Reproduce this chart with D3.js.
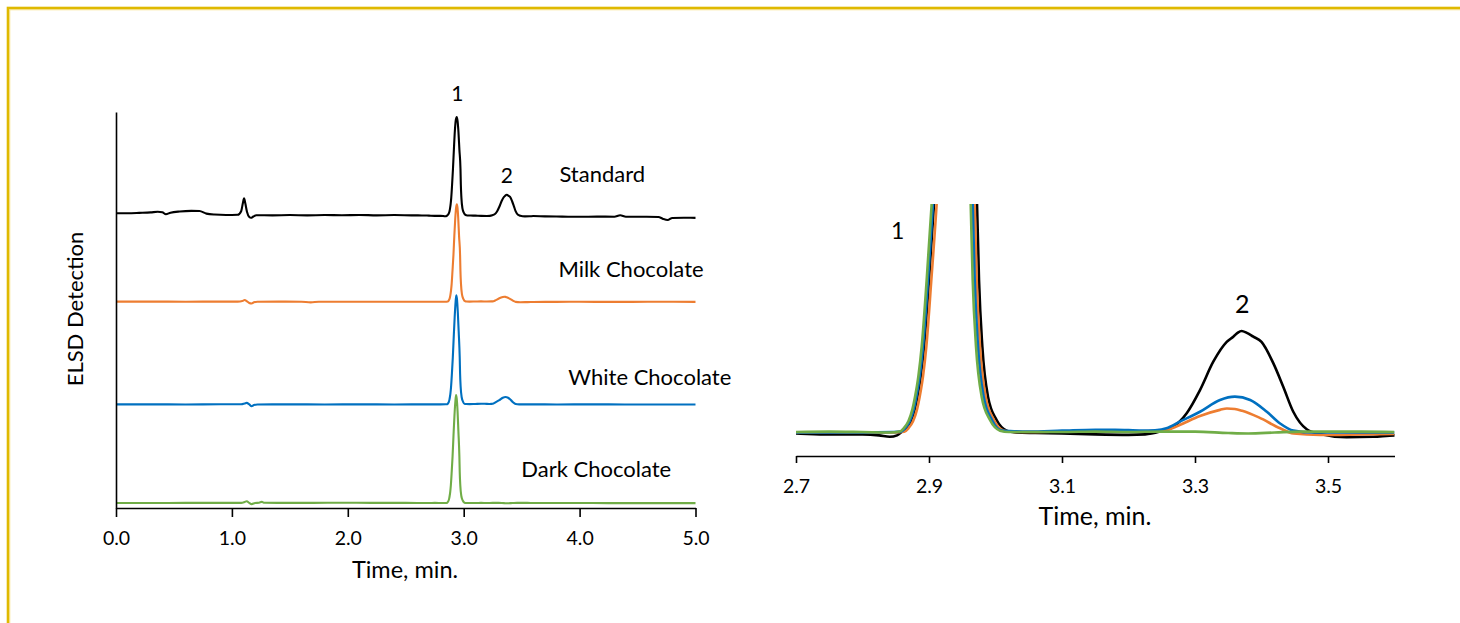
<!DOCTYPE html>
<html>
<head>
<meta charset="utf-8">
<script src="https://cdn.jsdelivr.net/npm/d3@7"></script>
<style>
  html, body { margin: 0; padding: 0; background: #fff; }
  svg { display: block; }
  text { font-family: Lato, "Open Sans", sans-serif; fill: #000; }
</style>
</head>
<body>
<svg id="chart" width="1460" height="623"></svg>
<script>
// ---------------- DATA (time in min, ELSD signal in arbitrary units) ----------------
const seriesNames = ["Standard", "Milk Chocolate", "White Chocolate", "Dark Chocolate"];
const seriesColors = ["#000000", "#ED7D31", "#0070C0", "#70AD47"];
// vertical stacking offsets used in the left (full-run) panel, signal units
const stackOffsets = [302.8, 213.5, 107.2, 5];

const leftTicks = [0, 1, 2, 3, 4, 5];
const rightTicks = [2.7, 2.9, 3.1, 3.3, 3.5];

const standard = [
  [0.00,2.3],[0.10,2.4],[0.20,2.8],[0.30,3.3],[0.36,3.9],[0.40,3.4],[0.43,1.4],[0.47,2.9],[0.55,4.2],
  [0.65,4.8],[0.72,4.7],[0.78,2.0],[0.85,1.0],[0.95,0.6],[1.05,0.8],[1.08,4.5],[1.095,13],[1.105,17.8],
  [1.115,13],[1.13,4],[1.15,-1.5],[1.165,-2.3],[1.185,-1.0],[1.21,0.3],[1.35,0.2],[1.5,0.5],[1.65,0.2],
  [1.8,0.5],[1.95,0.3],[2.1,0.6],[2.25,0.2],[2.4,0.5],[2.55,0.2],[2.65,0.1],[2.70,-0.1],[2.75,-0.3],
  [2.80,-0.3],[2.825,-0.5],[2.841,-0.8],[2.852,-0.5],[2.8595,0.3],[2.8655,1.0],[2.8725,2.5],[2.8785,5.0],
  [2.8825,7.7],[2.8875,12],[2.8925,18.3],[2.900,32.4],[2.9075,48.5],[2.916,70],[2.924,88],[2.932,99],
  [2.940,102],[2.947,98],[2.955,86],[2.963,68],[2.9722,48.5],[2.9752,32.4],[2.9802,18.3],[2.9887,7.7],
  [3.0017,2.75],[3.0168,0.5],[3.03,0.1],[3.06,0.0],[3.10,-0.1],[3.15,-0.3],[3.20,-0.4],[3.225,-0.3],
  [3.247,0.3],[3.267,1.3],[3.2875,4.2],[3.3075,9.1],[3.3275,15.1],[3.3477,19.3],[3.3576,20.4],[3.364,21.2],
  [3.370,21.6],[3.378,21.2],[3.3877,20.4],[3.400,19.3],[3.4177,14.8],[3.4327,9.8],[3.4478,4.5],[3.468,0.8],
  [3.488,-0.2],[3.528,-0.9],[3.568,-0.8],[3.60,-0.5],[3.70,-0.9],[3.85,-1.1],[4.00,-1.3],[4.15,-1.1],
  [4.30,-1.2],[4.35,0.3],[4.40,-1.2],[4.55,-1.3],[4.68,-1.5],[4.72,-3.5],[4.76,-4.6],[4.80,-2.5],
  [4.90,-2.3],[5.00,-2.4]
];

const milkChocolate = [
  [0.00,0.2],[0.3,0.2],[0.6,0.1],[0.9,0.2],[1.05,0.2],[1.09,0.8],[1.11,1.8],[1.13,0.5],[1.15,-1.2],
  [1.17,-1.7],[1.19,-0.5],[1.22,0.1],[1.4,0.2],[1.6,0.0],[1.68,-0.6],[1.75,0.0],[2.0,0.1],[2.3,0.1],
  [2.6,0.1],[2.7,0.1],[2.8,0.1],[2.84,0.1],[2.863,0.3],[2.869,1.0],[2.876,2.5],[2.882,5.0],[2.886,7.7],
  [2.891,12],[2.896,18.3],[2.9035,32.4],[2.9115,48.5],[2.919,68],[2.927,86],[2.935,98],[2.941,101],
  [2.947,97],[2.953,86],[2.960,68],[2.9687,48.5],[2.9717,32.4],[2.9767,18.3],[2.9852,7.7],[2.9977,2.75],
  [3.0128,0.5],[3.025,0.3],[3.05,0.2],[3.10,0.3],[3.15,0.4],[3.20,0.3],[3.24,0.4],[3.257,0.6],[3.277,1.7],
  [3.3075,3.6],[3.3376,4.9],[3.348,5.2],[3.360,5.1],[3.371,4.7],[3.396,3.3],[3.428,1.0],[3.448,-0.1],
  [3.488,-0.4],[3.55,-0.3],[3.60,-0.2],[3.8,-0.1],[4.0,0.0],[4.3,-0.1],[4.6,0.0],[5.0,-0.1]
];

const whiteChocolate = [
  [0.00,0.1],[0.3,0.1],[0.6,0.0],[0.9,0.2],[1.08,0.2],[1.11,1.0],[1.128,1.6],[1.15,0.0],[1.17,-1.8],
  [1.19,-0.6],[1.22,0.0],[1.5,0.1],[1.8,0.0],[2.1,0.1],[2.4,0.0],[2.7,0.1],[2.8,0.1],[2.845,0.2],
  [2.858,0.3],[2.864,1.0],[2.871,2.5],[2.877,5.0],[2.881,7.7],[2.886,12],[2.891,18.3],[2.8985,32.4],
  [2.906,48.5],[2.914,70],[2.922,90],[2.930,106],[2.936,113],[2.942,109],[2.949,96],[2.957,75],
  [2.9657,48.5],[2.9687,32.4],[2.9737,18.3],[2.9822,7.7],[2.9947,2.75],[3.0098,0.5],[3.022,0.4],
  [3.05,0.3],[3.10,0.5],[3.15,0.7],[3.18,0.7],[3.22,0.5],[3.24,0.6],[3.257,1.0],[3.277,2.4],[3.3075,4.5],
  [3.3376,7.0],[3.360,7.7],[3.383,7.0],[3.408,4.5],[3.428,2.0],[3.448,0.5],[3.478,0.1],[3.54,0.1],
  [3.60,0.1],[3.8,0.0],[4.1,0.1],[4.4,0.0],[4.7,0.0],[5.0,-0.1]
];

const darkChocolate = [
  [0.00,0.2],[0.3,0.2],[0.6,0.3],[0.9,0.3],[1.08,0.3],[1.11,1.2],[1.128,2.0],[1.15,0.3],[1.17,-1.0],
  [1.20,0.2],[1.235,0.5],[1.258,1.3],[1.28,0.4],[1.4,0.3],[1.7,0.3],[1.95,0.5],[2.2,0.3],[2.5,0.3],
  [2.7,0.2],[2.75,0.3],[2.80,0.2],[2.84,0.1],[2.856,0.3],[2.862,1.0],[2.869,2.5],[2.875,5.0],[2.879,7.7],
  [2.884,12],[2.889,18.3],[2.8965,32.4],[2.904,48.5],[2.912,70],[2.920,90],[2.928,105],[2.934,112],
  [2.940,108],[2.947,95],[2.954,75],[2.9627,48.5],[2.9657,32.4],[2.9707,18.3],[2.9792,7.7],[2.9917,2.75],
  [3.0068,0.5],[3.02,0.2],[3.05,0.2],[3.10,0.2],[3.15,0.3],[3.20,0.2],[3.25,0.3],[3.30,0.3],[3.35,0.0],
  [3.38,-0.1],[3.42,0.1],[3.46,0.3],[3.50,0.3],[3.55,0.3],[3.60,0.2],[3.8,0.1],[4.1,0.1],[4.4,0.0],
  [4.7,0.0],[5.0,0.0]
];

const allSeries = [standard, milkChocolate, whiteChocolate, darkChocolate];

// annotation anchors (time, signal units)
const leftLabelAnchors = [[3.826, 337.8], [3.817, 239.4], [3.903, 127.3], [3.497, 32.4]];
const leftPeakLabels = [["1", 2.945, 421.3], ["2", 3.372, 336.4]];
const rightPeakLabels = [["1", 2.853, 41.0], ["2", 3.371, 25.4]];

// ---------------- LAYOUT ----------------
const svg = d3.select("#chart");

// frame
svg.append("rect").attr("x", 8).attr("y", 8).attr("width", 1500).attr("height", 700)
  .attr("fill", "none").attr("stroke", "#DFB900").attr("stroke-width", 2.6);
svg.append("rect").attr("x", 9.8).attr("y", 9.8).attr("width", 1500).attr("height", 700)
  .attr("fill", "none").attr("stroke", "#F3D860").attr("stroke-width", 0.8);

// ---- left panel ----
const xL = d3.scaleLinear().domain([0, 5]).range([116, 695.5]);
const yL = d3.scaleLinear().domain([0, 410]).range([508, 112]);

const gL = svg.append("g");
const lineL = (off) => d3.line().x(d => xL(d[0])).y(d => yL(d[1] + off)).curve(d3.curveMonotoneX);

allSeries.forEach((s, i) => {
  gL.append("path").datum(s).attr("d", lineL(stackOffsets[i]))
    .attr("fill", "none").attr("stroke", seriesColors[i]).attr("stroke-width", 2.1)
    .attr("stroke-linejoin", "round");
});

const axL = gL.append("g").attr("transform", `translate(0,${yL(0)})`)
  .call(d3.axisBottom(xL).tickValues(leftTicks).tickFormat(d3.format(".1f")).tickSize(9).tickSizeOuter(0).tickPadding(14));
const axLY = gL.append("g").attr("transform", `translate(${xL(0)},0)`)
  .call(d3.axisLeft(yL).tickValues([]).tickSizeOuter(0));

[axL, axLY].forEach(a => {
  a.select(".domain").attr("stroke", "#000").attr("stroke-width", 1.6);
  a.selectAll(".tick line").attr("stroke", "#000").attr("stroke-width", 1.6);
  a.selectAll(".tick text").attr("font-family", "Lato, sans-serif").attr("font-size", 19.5).attr("fill", "#000");
});

gL.append("text").attr("x", 405).attr("y", 578).attr("text-anchor", "middle")
  .attr("font-size", 23.5).text("Time, min.");
gL.append("text").attr("transform", "translate(83,309) rotate(-90)").attr("text-anchor", "middle")
  .attr("font-size", 22).text("ELSD Detection");

seriesNames.forEach((n, i) => {
  gL.append("text").attr("x", xL(leftLabelAnchors[i][0])).attr("y", yL(leftLabelAnchors[i][1]))
    .attr("font-size", 22).text(n);
});
leftPeakLabels.forEach(p => {
  gL.append("text").attr("x", xL(p[1])).attr("y", yL(p[2])).attr("text-anchor", "middle")
    .attr("font-size", 21).text(p[0]);
});

// ---- right panel (zoom 2.7–3.6 min) ----
const xR = d3.scaleLinear().domain([2.7, 3.6]).range([796, 1394.5]);
const yR = d3.scaleLinear().domain([-4.87, 48.5]).range([456, 204]);

const defs = svg.append("defs");
defs.append("clipPath").attr("id", "clipR").append("rect")
  .attr("x", xR(2.7)).attr("y", yR(48.5)).attr("width", xR(3.6) - xR(2.7)).attr("height", yR(-4.87) - yR(48.5));

const gR = svg.append("g");
const plotR = gR.append("g").attr("clip-path", "url(#clipR)");
const lineR = d3.line().x(d => xR(d[0])).y(d => yR(d[1])).curve(d3.curveMonotoneX);

allSeries.forEach((s, i) => {
  plotR.append("path").datum(s.filter(d => d[0] >= 2.6 && d[0] <= 3.7)).attr("d", lineR)
    .attr("fill", "none").attr("stroke", seriesColors[i]).attr("stroke-width", 2.6)
    .attr("stroke-linejoin", "round");
});

const axR = gR.append("g").attr("transform", `translate(0,${yR(-4.87)})`)
  .call(d3.axisBottom(xR).tickValues(rightTicks).tickFormat(d3.format(".1f")).tickSize(7).tickSizeOuter(0).tickPadding(16));
axR.select(".domain").attr("stroke", "#000").attr("stroke-width", 1.6);
axR.selectAll(".tick line").attr("stroke", "#000").attr("stroke-width", 1.6);
axR.selectAll(".tick text").attr("font-family", "Lato, sans-serif").attr("font-size", 19.5).attr("fill", "#000");

gR.append("text").attr("x", 1095).attr("y", 525).attr("text-anchor", "middle")
  .attr("font-size", 25).text("Time, min.");
rightPeakLabels.forEach((p, i) => {
  gR.append("text").attr("x", xR(p[1])).attr("y", yR(p[2])).attr("text-anchor", "middle")
    .attr("font-size", i === 0 ? 23 : 25).text(p[0]);
});
</script>
</body>
</html>
